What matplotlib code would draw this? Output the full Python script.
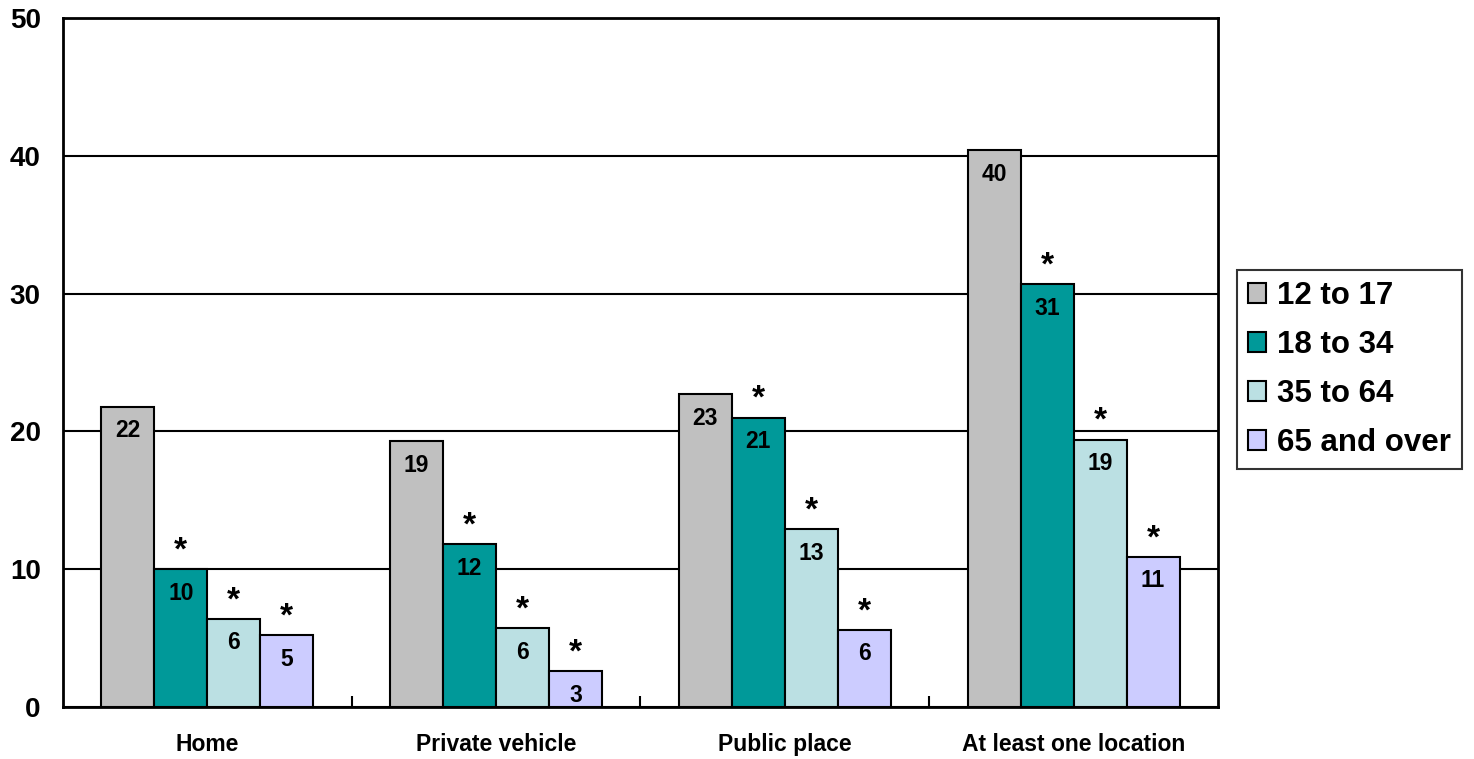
#!/usr/bin/env python

import matplotlib
matplotlib.use("Agg")
import matplotlib.pyplot as plt
import numpy as np

# Data
locations = ["Home", "Private vehicle", "Public place", "At least one location"]
age_groups = ["12 to 17", "18 to 34", "35 to 64", "65 and over"]
pct_12_17 = [21.8, 19.3, 22.7, 40.4]
pct_18_34 = [10.0, 11.8, 21.0, 30.7]
pct_35_64 = [6.4, 5.7, 12.9, 19.4]
pct_65_up = [5.2, 2.6, 5.6, 10.9]
# significance vs. the 12 to 17 group
signif_18_34 = [True, True, True, True]
signif_35_64 = [True, True, True, True]
signif_65_up = [True, True, True, True]

colors = ["#C0C0C0", "#009999", "#BBE0E3", "#CCCCFF"]

plt.rcParams["font.family"] = ["Liberation Sans", "DejaVu Sans"]
plt.rcParams["font.weight"] = "bold"

fig = plt.figure(figsize=(14.74, 7.59), dpi=100)
ax = fig.add_axes([0.0427, 0.0685, 0.7836, 0.9075])

series = [pct_12_17, pct_18_34, pct_35_64, pct_65_up]
signif = [[False] * 4, signif_18_34, signif_35_64, signif_65_up]

x = np.arange(len(locations))
width = 0.1835
for i, (vals, sig) in enumerate(zip(series, signif)):
	pos = x + (i - 1.5) * width
	bars = ax.bar(pos, vals, width, color=colors[i], edgecolor="black",
		linewidth=1.5, label=age_groups[i], zorder=3)
	for b, v, s in zip(bars, vals, sig):
		cx = b.get_x() + b.get_width() / 2
		ax.annotate("%.0f" % v, (cx, v), xytext=(0, -9), textcoords="offset points",
			ha="center", va="top", fontsize=16.5, fontweight="bold", zorder=4)
		if s:
			ax.annotate("*", (cx, v), xytext=(0, 2), textcoords="offset points",
				ha="center", va="bottom", fontsize=24, fontweight="bold", zorder=4)

ax.set_xlim(-0.5, 3.5)
ax.set_ylim(0, 50)
ax.set_yticks(np.arange(0, 51, 10))
ax.yaxis.grid(True, color="black", linewidth=1.5, zorder=0)
ax.set_axisbelow(True)

ax.set_xticks(x)
ax.set_xticklabels(locations, fontsize=16.5, fontweight="bold")
ax.tick_params(axis="x", which="major", length=0, pad=19)
ax.set_xticks([0.5, 1.5, 2.5], minor=True)
ax.tick_params(axis="x", which="minor", direction="in", length=8, width=1.5)
ax.tick_params(axis="y", length=0, pad=16, labelsize=20)
for lbl in ax.get_yticklabels():
	lbl.set_fontweight("bold")

for sp in ax.spines.values():
	sp.set_linewidth(2)

leg = ax.legend(loc="center left", bbox_to_anchor=(1.0, 0.49), frameon=True,
	fancybox=False, edgecolor="black", fontsize=22.5, handlelength=0.6,
	handleheight=0.6, handletextpad=0.35, labelspacing=0.6, borderpad=0.35,
	borderaxespad=0.6)
leg.get_frame().set_linewidth(1.5)
for t in leg.get_texts():
	t.set_fontweight("bold")

fig.savefig("out.png", dpi=100)
